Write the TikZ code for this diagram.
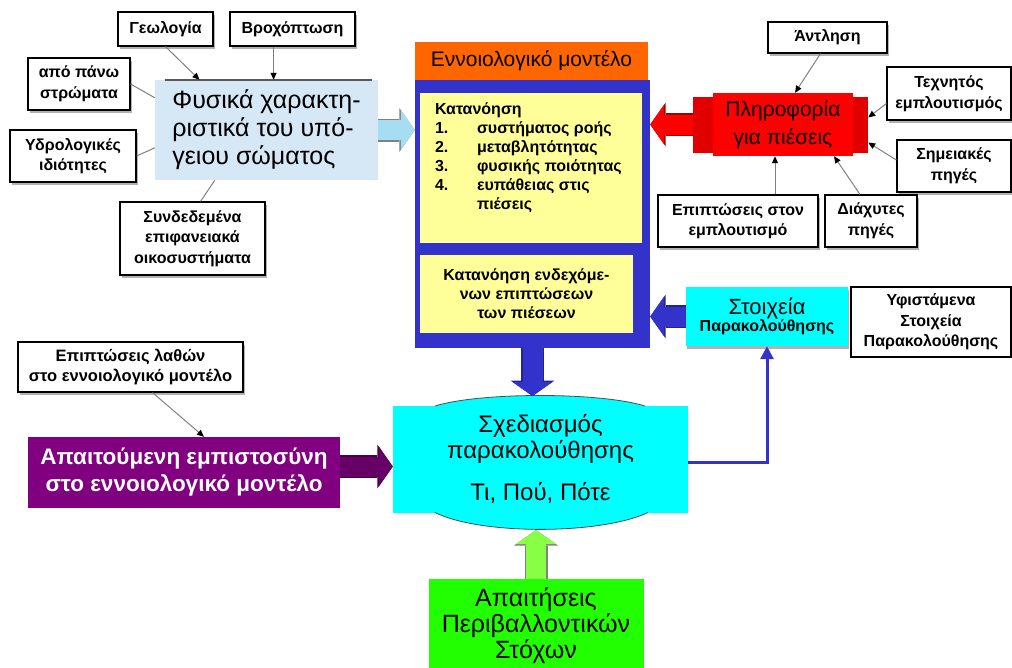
\documentclass[tikz,border=0pt]{standalone}
\usepackage{fontspec}
\setmainfont{Liberation Sans}
\usepackage{xcolor}
\definecolor{soilBlue}{HTML}{D6E7F5}
\definecolor{arrowBlue}{HTML}{A6DDF2}
\definecolor{modelOrange}{HTML}{FF6600}
\definecolor{modelBlue}{HTML}{3333CC}
\definecolor{noteYellow}{HTML}{FFFF99}
\definecolor{pressRed}{HTML}{FF0000}
\definecolor{pressDark}{HTML}{E00000}
\definecolor{monCyan}{HTML}{00FFFF}
\definecolor{trustPurple}{HTML}{800080}
\definecolor{trustDark}{HTML}{660066}
\definecolor{goalGreen}{HTML}{22FF00}
\definecolor{arrowGreen}{HTML}{88FF44}
\usetikzlibrary{arrows.meta, calc, shadows, backgrounds}

\begin{document}
\begin{tikzpicture}[x=1pt, y=-1pt,
  frame/.style={draw=black, line width=1.2pt, fill=white, align=center, inner sep=2pt,
    font=\bfseries\fontsize{16}{20.5}\selectfont},
  note/.style={frame, drop shadow={shadow xshift=2pt, shadow yshift=-3pt, fill=gray!60, opacity=1}},
  fat/.style={line width=20pt, -{Triangle[length=14pt, width=40pt, line width=0pt]}},
  rim/.style={preaction={draw=#1, line width=23pt, -{Triangle[length=15.5pt, width=44pt, line width=0pt]}}},
  pointer/.style={draw=gray, line width=1pt, -{Triangle[length=7pt, width=6pt, color=black]}},
  link/.style={draw=gray, line width=1pt}
]
  \useasboundingbox (0,0) rectangle (1012,667);

  % Physical characteristics
  \node[note, minimum width=95pt, minimum height=34pt] (geo) at (165.5,29) {Γεωλογία};
  \node[note, minimum width=125pt, minimum height=34pt] (rain) at (292.5,29) {Βροχόπτωση};
  \node[note, minimum width=102pt, minimum height=52pt] (upper) at (79,84) {από πάνω\\στρώματα};
  \node[note, minimum width=126pt, minimum height=52pt] (hydro) at (73,156) {Υδρολογικές\\ιδιότητες};
  \node[note, minimum width=145pt, minimum height=73pt] (eco) at (192.5,238.5) {Συνδεδεμένα\\επιφανειακά\\οικοσυστήματα};
  \node[fill=soilBlue, minimum width=223pt, minimum height=100pt, align=left, inner sep=0pt,
    font=\fontsize{25}{28}\selectfont] (phys) at (266.5,130) {Φυσικά χαρακτη-\\ριστικά του υπό-\\γειου σώματος};
  \draw[line width=2pt, gray!70!black] ([xshift=10pt]phys.north west) -- ([xshift=-6pt]phys.north east);

  % Conceptual model
  \node[fill=modelBlue, minimum width=235pt, minimum height=268pt, inner sep=0pt] (body) at (532.5,214) {};
  \node[fill=modelOrange, minimum width=233pt, minimum height=38pt, inner sep=0pt,
    font=\fontsize{21}{24}\selectfont] (model) at (531.5,61) {Εννοιολογικό μοντέλο};
  \node[fill=noteYellow, minimum width=222pt, minimum height=150pt, inner sep=0pt] (flow) at (531,168) {};
  \node[anchor=north west, align=left, inner sep=0pt, font=\bfseries\fontsize{16}{19}\selectfont]
    (flowtext) at ([xshift=15pt, yshift=-10pt]flow.north west)
    {Κατανόηση\\
     \makebox[42pt][l]{1.}συστήματος ροής\\
     \makebox[42pt][l]{2.}μεταβλητότητας\\
     \makebox[42pt][l]{3.}φυσικής ποιότητας\\
     \makebox[42pt][l]{4.}ευπάθειας στις\\
     \makebox[42pt][l]{}πιέσεις};
  \node[fill=noteYellow, minimum width=213pt, minimum height=78pt, align=center,
    font=\bfseries\fontsize{16}{19}\selectfont] (impact) at (526.5,294) {Κατανόηση ενδεχόμε-\\νων επιπτώσεων\\των πιέσεων};

  % Pressures
  \node[fill=pressRed, minimum width=140pt, minimum height=63pt, align=center,
    font=\fontsize{21}{28}\selectfont] (press) at (783,124.5) {Πληροφορία\\για πιέσεις};
  \begin{scope}[on background layer]
    \fill[pressDark] ([xshift=-20pt, yshift=-4pt]press.north west) rectangle ([xshift=15pt, yshift=3pt]press.south east);
  \end{scope}
  \node[note, minimum width=119pt, minimum height=31pt] (pump) at (827.5,37.5) {Άντληση};
  \node[note, minimum width=124pt, minimum height=53pt] (recharge) at (949,93.5) {Τεχνητός\\εμπλουτισμός};
  \node[note, minimum width=114pt, minimum height=52pt] (point) at (954,166) {Σημειακές\\πηγές};
  \node[note, minimum width=160pt, minimum height=52pt] (rimpact) at (738,221) {Επιπτώσεις στον\\εμπλουτισμό};
  \node[note, minimum width=92pt, minimum height=52pt] (diffuse) at (871,221) {Διάχυτες\\πηγές};

  % Monitoring data
  \node[fill=monCyan, minimum width=162pt, minimum height=59pt, align=center,
    drop shadow={shadow xshift=1pt, shadow yshift=-3pt, fill=gray!60, opacity=1}] (data) at (767,316.5)
    {{\fontsize{22}{24}\selectfont Στοιχεία}\\{\bfseries\fontsize{16}{19}\selectfont Παρακολούθησης}};
  \node[frame, minimum width=160pt, minimum height=70pt] (existing) at (931,322) {Υφιστάμενα\\Στοιχεία\\Παρακολούθησης};

  % Monitoring design
  \node[fill=monCyan, minimum width=295pt, minimum height=107pt, align=center,
    font=\fontsize{24}{26}\selectfont] (plan) at (540.5,459) {Σχεδιασμός\\παρακολούθησης\\[16pt]Τι, Πού, Πότε};
  \draw[gray!60!black, line width=0.8pt, fill=monCyan] (435,406) .. controls (480,392) and (600,392) .. (645,406);
  \draw[gray!60!black, line width=0.8pt, fill=monCyan] (435,512.5) .. controls (480,535) and (600,535) .. (648,512.5);
  \coordinate (plantop) at (535,396);
  \coordinate (planbottom) at (534,530);

  % Confidence and goals
  \node[fill=trustPurple, text=white, minimum width=312pt, minimum height=71pt, align=center,
    font=\bfseries\fontsize{22.5}{27}\selectfont] (trust) at (184,472.5) {Απαιτούμενη εμπιστοσύνη\\στο εννοιολογικό μοντέλο};
  \node[note, minimum width=225pt, minimum height=50pt, font=\bfseries\fontsize{16.5}{20}\selectfont] (errors) at (130.5,367) {Επιπτώσεις λαθών\\στο εννοιολογικό μοντέλο};
  \node[fill=goalGreen, minimum width=215pt, minimum height=94pt, align=center,
    font=\fontsize{25}{26}\selectfont] (goals) at (536,626) {Απαιτήσεις\\Περιβαλλοντικών\\Στόχων};

  % Arrows
  \coordinate (rainfoot) at ($(rain.south west)!0.35!(rain.south east)$);
  \coordinate (rimfoot) at ([xshift=37pt]rimpact.north);
  \draw[pointer] (geo.south) -- ($(phys.north west)!0.2!(phys.north east)$);
  \draw[pointer] (rainfoot) -- (rainfoot |- phys.north);
  \draw[link] (upper.east) -- ([yshift=-18pt]phys.north west);
  \draw[link] (hydro.east) -- ([yshift=-68pt]phys.north west);
  \draw[link] ([xshift=8pt]eco.north) -- ([xshift=60pt]phys.south west);
  \draw[fat, rim=gray, arrowBlue] (phys.east) -- (phys.east -| body.west);

  \draw[pointer] ([xshift=-7pt]pump.south) -- ([xshift=12pt]press.north);
  \draw[pointer] ([yshift=-10pt]recharge.west) -- ([xshift=15pt, yshift=7pt]press.east);
  \draw[pointer] ([yshift=6pt]point.west) -- ([xshift=15pt, yshift=-18pt]press.east);
  \draw[pointer] (rimfoot) -- (rimfoot |- press.south);
  \draw[pointer] ([xshift=-11pt]diffuse.north) -- ([xshift=51pt]press.south);
  \draw[fat, rim=pressDark!70!black, pressRed] ([xshift=-20pt]press.west) -- (press.west -| body.east);

  \draw[fat, rim=modelBlue!70!black, modelBlue] (data.west) -- (data.west -| body.east);
  \draw[fat, rim=modelBlue!70!black, modelBlue] (body.south) -- (body.south |- plantop);
  \draw[modelBlue, line width=3pt, -{Triangle[length=13pt, width=13pt]}] ([yshift=-3pt]plan.east) -| (data.south);

  \draw[pointer] ([xshift=22pt]errors.south) -- ([xshift=20pt]trust.north);
  \draw[fat, rim=trustDark!70!black, trustDark] ([yshift=6pt]trust.east) -- ([yshift=6pt]trust.east -| plan.west);
  \draw[fat, rim=gray, arrowGreen] (goals.north) -- (goals.north |- planbottom);
\end{tikzpicture}
\end{document}
